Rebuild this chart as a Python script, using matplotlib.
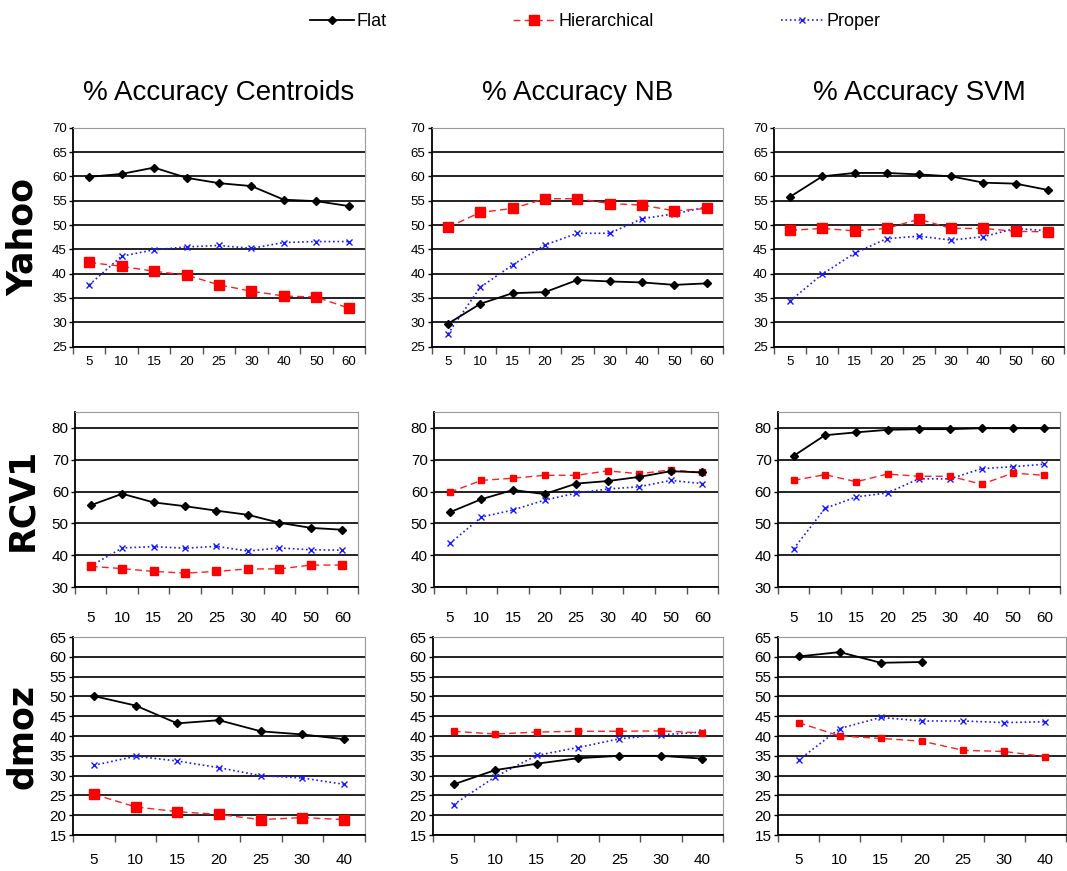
import numpy as np
import matplotlib
matplotlib.use("Agg")
import matplotlib.pyplot as plt

plt.rcParams['font.family'] = ['Liberation Sans', 'DejaVu Sans']

# category labels (number of features / docs, equally spaced categories)
x_long = ['5', '10', '15', '20', '25', '30', '40', '50', '60']
x_short = ['5', '10', '15', '20', '25', '30', '40']

methods = ['Flat', 'Hierarchical', 'Proper']
classifiers = ['% Accuracy Centroids', '% Accuracy NB', '% Accuracy SVM']
datasets = ['Yahoo', 'RCV1', 'dmoz']

# Yahoo
yahoo_cent_flat = [59.9, 60.5, 61.8, 59.7, 58.6, 58.0, 55.2, 54.9, 53.9]
yahoo_cent_hier = [42.3, 41.5, 40.5, 39.7, 37.7, 36.4, 35.4, 35.2, 32.9]
yahoo_cent_prop = [37.7, 43.6, 44.9, 45.5, 45.8, 45.2, 46.4, 46.6, 46.6]

yahoo_nb_flat = [29.7, 33.8, 36.0, 36.2, 38.7, 38.4, 38.2, 37.7, 38.0]
yahoo_nb_hier = [49.5, 52.6, 53.4, 55.4, 55.4, 54.4, 54.1, 52.9, 53.4]
yahoo_nb_prop = [27.6, 37.2, 41.8, 45.9, 48.3, 48.3, 51.3, 52.3, 53.7]

yahoo_svm_flat = [55.8, 60.0, 60.7, 60.7, 60.4, 60.0, 58.7, 58.5, 57.2]
yahoo_svm_hier = [48.9, 49.3, 48.8, 49.3, 51.2, 49.3, 49.3, 48.7, 48.6]
yahoo_svm_prop = [34.4, 39.9, 44.2, 47.2, 47.7, 46.9, 47.6, 49.3, 48.8]

# RCV1
rcv1_cent_flat = [55.7, 59.3, 56.6, 55.4, 54.0, 52.7, 50.2, 48.6, 48.0]
rcv1_cent_hier = [36.5, 35.8, 34.9, 34.4, 34.9, 35.7, 35.7, 36.9, 36.9]
rcv1_cent_prop = [36.6, 42.3, 42.7, 42.2, 42.8, 41.3, 42.3, 41.7, 41.6]

rcv1_nb_flat = [53.5, 57.6, 60.5, 59.2, 62.5, 63.3, 64.6, 66.4, 66.0]
rcv1_nb_hier = [59.8, 63.5, 64.2, 65.1, 65.1, 66.5, 65.6, 66.8, 66.0]
rcv1_nb_prop = [43.7, 52.0, 54.2, 57.3, 59.5, 60.8, 61.5, 63.5, 62.5]

rcv1_svm_flat = [71.2, 77.7, 78.6, 79.4, 79.6, 79.6, 79.9, 79.9, 79.9]
rcv1_svm_hier = [63.5, 65.3, 63.1, 65.5, 64.8, 64.8, 62.3, 65.8, 65.1]
rcv1_svm_prop = [42.0, 54.7, 58.3, 59.6, 64.0, 64.0, 67.2, 67.8, 68.6]

# dmoz
dmoz_cent_flat = [50.1, 47.7, 43.2, 44.0, 41.2, 40.4, 39.2]
dmoz_cent_hier = [25.3, 22.1, 20.9, 20.2, 18.9, 19.4, 18.9]
dmoz_cent_prop = [32.6, 34.9, 33.7, 32.0, 30.0, 29.4, 27.8]

dmoz_nb_flat = [27.8, 31.4, 33.0, 34.4, 35.0, 35.0, 34.3]
dmoz_nb_hier = [41.2, 40.5, 41.0, 41.2, 41.2, 41.3, 40.8]
dmoz_nb_prop = [22.7, 29.7, 35.1, 37.1, 39.3, 40.3, 41.0]

dmoz_svm_flat = [60.1, 61.2, 58.5, 58.7, np.nan, np.nan, np.nan]
dmoz_svm_hier = [43.4, 40.0, 39.4, 38.7, 36.4, 36.1, 34.8]
dmoz_svm_prop = [33.9, 41.9, 44.7, 43.8, 43.8, 43.4, 43.6]

panels = [
    [(yahoo_cent_flat, yahoo_cent_hier, yahoo_cent_prop),
     (yahoo_nb_flat, yahoo_nb_hier, yahoo_nb_prop),
     (yahoo_svm_flat, yahoo_svm_hier, yahoo_svm_prop)],
    [(rcv1_cent_flat, rcv1_cent_hier, rcv1_cent_prop),
     (rcv1_nb_flat, rcv1_nb_hier, rcv1_nb_prop),
     (rcv1_svm_flat, rcv1_svm_hier, rcv1_svm_prop)],
    [(dmoz_cent_flat, dmoz_cent_hier, dmoz_cent_prop),
     (dmoz_nb_flat, dmoz_nb_hier, dmoz_nb_prop),
     (dmoz_svm_flat, dmoz_svm_hier, dmoz_svm_prop)],
]
row_xlabels = [x_long, x_long, x_short]
row_ylim = [(25, 70), (30, 85), (15, 65)]
row_ystep = [5, 10, 5]

# layout in figure fractions (left, width) per row/col, (bottom, height) per row
col_pos = [
    [(0.0684, 0.2737), (0.4046, 0.2730), (0.7254, 0.2718)],
    [(0.0703, 0.2652), (0.4068, 0.2662), (0.7291, 0.2643)],
    [(0.0684, 0.2737), (0.4058, 0.2718), (0.7291, 0.2700)],
]
row_pos = [(0.602, 0.2514), (0.326, 0.201), (0.0413, 0.2273)]
row_xpad = [7, 17, 13]
row_fs = [9.5, 11, 11]

# marker size for red squares, per panel
sq_size = [[7.5, 7.5, 7.5], [6, 5, 4.5], [7.5, 4.5, 4.5]]

fig = plt.figure(figsize=(10.67, 8.71), dpi=100)

for r in range(3):
    labels = row_xlabels[r]
    xs = np.arange(len(labels))
    for c in range(3):
        left, width = col_pos[r][c]
        bottom, height = row_pos[r]
        ax = fig.add_axes([left, bottom, width, height])
        flat, hier, prop = panels[r][c]

        ax.plot(xs, prop, color='#1a1aff', linestyle=':', linewidth=1.2,
                marker='x', markersize=5, markeredgewidth=1.0, label='Proper', zorder=3)
        ax.plot(xs, hier, color='#ff2020', linestyle='--', linewidth=1.0,
                dashes=(5, 3), marker='s', markersize=sq_size[r][c],
                markerfacecolor='#ff0000', markeredgecolor='#ff0000', label='Hierarchical', zorder=4)
        ax.plot(xs, flat, color='black', linestyle='-', linewidth=1.3,
                marker='D', markersize=4.5, label='Flat', zorder=5)

        lo, hi = row_ylim[r]
        ax.set_ylim(lo, hi)
        ax.set_xlim(-0.5, len(labels) - 0.5)
        yt = np.arange(lo, hi + 0.1, row_ystep[r])
        if r == 1:
            yt = np.arange(30, 81, 10)
        ax.set_yticks(yt)
        ax.set_yticklabels([str(int(v)) for v in yt], fontsize=row_fs[r])
        ax.yaxis.grid(True, color='#111111', linewidth=1.3)
        ax.set_axisbelow(True)

        ax.set_xticks(xs)
        ax.set_xticklabels(labels, fontsize=row_fs[r])
        ax.set_xticks(np.arange(-0.5, len(labels)), minor=True)
        ax.tick_params(axis='x', which='major', length=0, pad=row_xpad[r])
        ax.tick_params(axis='x', which='minor', length=5, width=1, color='#555555', direction='out')
        ax.tick_params(axis='y', length=3, width=1, pad=1.5)

        for s in ['left', 'bottom']:
            ax.spines[s].set_color('black')
            ax.spines[s].set_linewidth(1.3)
        for s in ['top', 'right']:
            ax.spines[s].set_color('#999999')
            ax.spines[s].set_linewidth(0.8)

        if r == 0:
            ax.set_title(classifiers[c], fontsize=20, pad=20)
        if c == 0:
            fig.text(0.021, bottom + height / 2, datasets[r], rotation=90,
                     ha='center', va='center', fontsize=25, fontweight='bold',
                     family='DejaVu Sans')
        if r == 0 and c == 0:
            handles, hl = ax.get_legend_handles_labels()

order = [2, 1, 0]
fig.legend([handles[i] for i in order], [hl[i] for i in order],
           loc='center', bbox_to_anchor=(0.558, 0.975), ncol=3, frameon=False,
           fontsize=13, handlelength=2.4, handletextpad=0.15, columnspacing=7.0)

fig.savefig('out.png', dpi=100)
